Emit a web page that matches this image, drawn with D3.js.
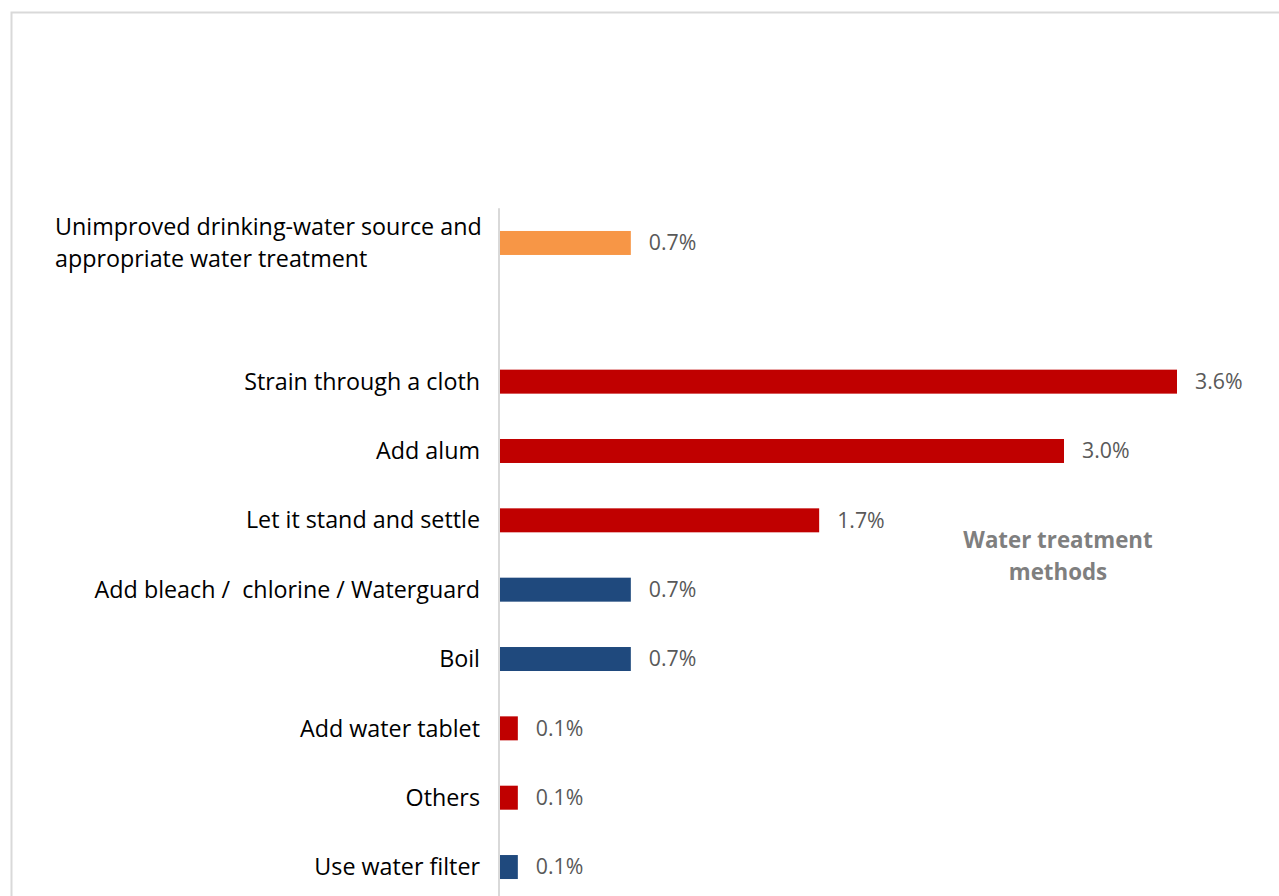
<!DOCTYPE html>
<html>
<head>
<meta charset="utf-8">
<script src="https://cdn.jsdelivr.net/npm/d3@7"></script>
<style>
  html, body { margin: 0; padding: 0; background: #ffffff; }
  svg { display: block; font-family: "Open Sans", "Liberation Sans", sans-serif; }
</style>
</head>
<body>
<svg id="chart" width="1279" height="896"></svg>
<script>
// Share of households by water treatment method (%)
const categories = [
  "Unimproved drinking-water source and\nappropriate water treatment",
  "",
  "Strain through a cloth",
  "Add alum",
  "Let it stand and settle",
  "Add bleach /  chlorine / Waterguard",
  "Boil",
  "Add water tablet",
  "Others",
  "Use water filter"
];
const values = [0.7, null, 3.6, 3.0, 1.7, 0.7, 0.7, 0.1, 0.1, 0.1];
const groups = ["summary", null, "red", "red", "red", "blue", "blue", "red", "red", "blue"];
const valueLabels = ["0.7%", "", "3.6%", "3.0%", "1.7%", "0.7%", "0.7%", "0.1%", "0.1%", "0.1%"];
const annotation = ["Water treatment", "methods"];

const colors = { summary: "#f79646", red: "#c00000", blue: "#1f497d" };

const svg = d3.select("#chart");

// outer frame
svg.append("rect")
  .attr("x", 11.5).attr("y", 12.5)
  .attr("width", 1300).attr("height", 1000)
  .attr("fill", "none").attr("stroke", "#d9d9d9").attr("stroke-width", 2);

const x = d3.scaleLinear().domain([0, 3.6]).range([499, 1177]);
const y = d3.scaleBand()
  .domain(d3.range(categories.length))
  .range([208.3, 901.7])
  .paddingInner(0.654)
  .paddingOuter(0.327);

// category axis line
svg.append("line")
  .attr("x1", x(0)).attr("x2", x(0))
  .attr("y1", y.range()[0]).attr("y2", 900)
  .attr("stroke", "#d9d9d9").attr("stroke-width", 2);

const rows = d3.range(categories.length).filter(i => values[i] !== null);

// bars
svg.append("g").selectAll("rect")
  .data(rows)
  .join("rect")
  .attr("x", x(0) + 1)
  .attr("y", i => y(i))
  .attr("width", i => x(values[i]) - x(0) - 1)
  .attr("height", y.bandwidth())
  .attr("fill", i => colors[groups[i]]);

// value labels
svg.append("g").selectAll("text")
  .data(rows)
  .join("text")
  .attr("x", i => x(values[i]) + 18)
  .attr("y", i => y(i) + y.bandwidth() / 2)
  .attr("dy", "0.35em")
  .attr("font-size", 21.3)
  .attr("fill", "#595959")
  .text(i => valueLabels[i]);

// category labels
const catG = svg.append("g");
rows.forEach(i => {
  const lines = categories[i].split("\n");
  const cy = y(i) + y.bandwidth() / 2;
  if (lines.length === 1) {
    catG.append("text")
      .attr("x", 480)
      .attr("y", cy)
      .attr("dy", "0.35em")
      .attr("text-anchor", "end")
      .attr("font-size", 23.3)
      .attr("fill", "#000000")
      .style("white-space", "pre")
      .text(lines[0]);
  } else {
    const lh = 32;
    lines.forEach((ln, k) => {
      catG.append("text")
        .attr("x", 55)
        .attr("y", cy + (k - (lines.length - 1) / 2) * lh)
        .attr("dy", "0.35em")
        .attr("font-size", 23.3)
        .attr("fill", "#000000")
        .text(ln);
    });
  }
});

// annotation
svg.append("g").selectAll("text")
  .data(annotation)
  .join("text")
  .attr("x", 1058)
  .attr("y", (d, k) => 540 + k * 32)
  .attr("dy", "0.35em")
  .attr("text-anchor", "middle")
  .attr("font-size", 22.3)
  .attr("font-weight", "bold")
  .attr("fill", "#7f7f7f")
  .text(d => d);
</script>
</body>
</html>
